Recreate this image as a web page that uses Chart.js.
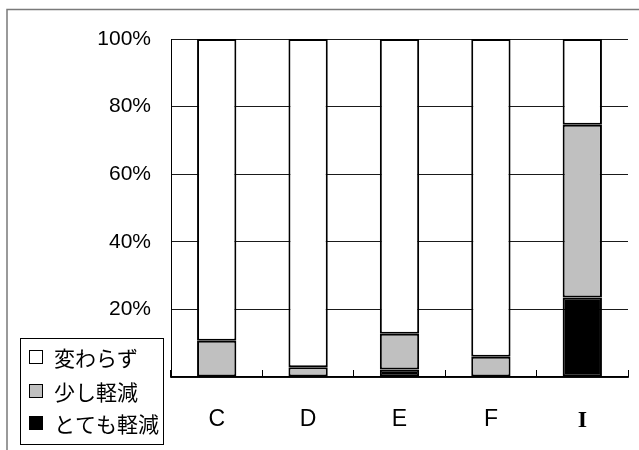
<!DOCTYPE html>
<html>
<head>
<meta charset="utf-8">
<script src="https://cdn.jsdelivr.net/npm/chart.js@4"></script>
<style>
  html, body { margin: 0; padding: 0; background: #fff; }
  #wrap { width: 639px; height: 450px; }
</style>
</head>
<body>
<div id="wrap"><canvas id="c" width="639" height="450"></canvas></div>
<script>
// Categories and the three response shares (percent), stacked bottom to top
const categories = ['C', 'D', 'E', 'F', 'I'];
const muchReduced = [0, 0, 2.2, 0, 23.5];             // とても軽減
const slightlyReduced = [10.7, 2.9, 10.6, 6.0, 51.1]; // 少し軽減
const unchanged = [89.3, 97.1, 87.2, 94.0, 25.4];     // 変わらず
const yTicks = [0, 20, 40, 60, 80, 100];

const seriesLabels = ['とても軽減', '少し軽減', '変わらず'];
const seriesColors = ['#000000', '#C0C0C0', '#FFFFFF'];

const tickFont = { family: '"Liberation Sans", Arial, sans-serif', size: 21 };

// Gray frame around the whole figure
const framePlugin = {
  id: 'frame',
  beforeDraw(chart) {
    const ctx = chart.ctx;
    ctx.save();
    ctx.fillStyle = '#fff';
    ctx.fillRect(0, 0, chart.width, chart.height);
    ctx.strokeStyle = '#7a7a7a';
    ctx.lineWidth = 1.5;
    ctx.strokeRect(7, 9.5, 700, 700);
    ctx.restore();
  }
};

// Boxed legend in the lower-left corner, listed top to bottom as 変わらず, 少し軽減, とても軽減
const boxLegendPlugin = {
  id: 'boxLegend',
  afterDraw(chart) {
    const ctx = chart.ctx;
    const ds = chart.data.datasets;
    ctx.save();
    ctx.fillStyle = '#fff';
    ctx.fillRect(20.5, 338.5, 143, 106);
    ctx.strokeStyle = '#000';
    ctx.lineWidth = 1;
    ctx.strokeRect(20.5, 338.5, 143, 106);
    ctx.font = '21px "Noto Sans CJK JP", sans-serif';
    ctx.textBaseline = 'middle';
    ctx.textAlign = 'left';
    const rows = [357, 391, 423];
    for (let k = 0; k < ds.length; k++) {
      const d = ds[ds.length - 1 - k];
      const y = rows[k];
      ctx.fillStyle = d.backgroundColor;
      ctx.fillRect(29.5, y - 6.5, 13, 13);
      ctx.strokeStyle = '#000';
      ctx.lineWidth = 1;
      ctx.strokeRect(29.5, y - 6.5, 13, 13);
      ctx.fillStyle = '#000';
      ctx.fillText(d.label, 54, y + 1);
    }
    ctx.restore();
  }
};

const values = [muchReduced, slightlyReduced, unchanged];

new Chart(document.getElementById('c'), {
  type: 'bar',
  data: {
    labels: categories,
    datasets: values.map((v, i) => ({
      label: seriesLabels[i],
      data: v,
      backgroundColor: seriesColors[i],
      borderColor: '#000',
      // empty segments get no outline
      borderWidth: (ctx) => (ctx.raw ? 2 : 0),
      borderSkipped: false,
      barPercentage: 0.43,
      categoryPercentage: 1.0
    }))
  },
  options: {
    responsive: false,
    animation: false,
    devicePixelRatio: 1,
    layout: { padding: { left: 0, top: 39, right: 11, bottom: 0 } },
    plugins: {
      legend: { display: false },
      tooltip: { enabled: false },
      title: { display: false }
    },
    scales: {
      x: {
        stacked: true,
        grid: {
          display: true,
          offset: true,
          drawOnChartArea: false,
          drawTicks: true,
          tickLength: -7,
          color: '#000',
          lineWidth: 1
        },
        border: { display: true, color: '#000', width: 1.5 },
        ticks: {
          color: '#000',
          padding: 36,
          font: (ctx) => ctx.index === 4
            ? { family: '"Liberation Serif", "DejaVu Serif", serif', size: 24, weight: 'bold' }
            : { family: '"Liberation Sans", Arial, sans-serif', size: 23 }
        },
        afterFit(scale) { scale.height = 73; }
      },
      y: {
        stacked: true,
        min: 0,
        max: 100,
        afterBuildTicks(scale) { scale.ticks = yTicks.map(v => ({ value: v })); },
        grid: {
          color: '#1a1a1a',
          lineWidth: 1,
          drawTicks: false
        },
        border: { display: true, color: '#000', width: 1 },
        ticks: {
          color: '#000',
          padding: 20,
          font: tickFont,
          callback: (v) => v === 0 ? '' : v + '%'
        },
        afterFit(scale) { scale.width = 171; }
      }
    }
  },
  plugins: [framePlugin, boxLegendPlugin]
});
</script>
</body>
</html>
